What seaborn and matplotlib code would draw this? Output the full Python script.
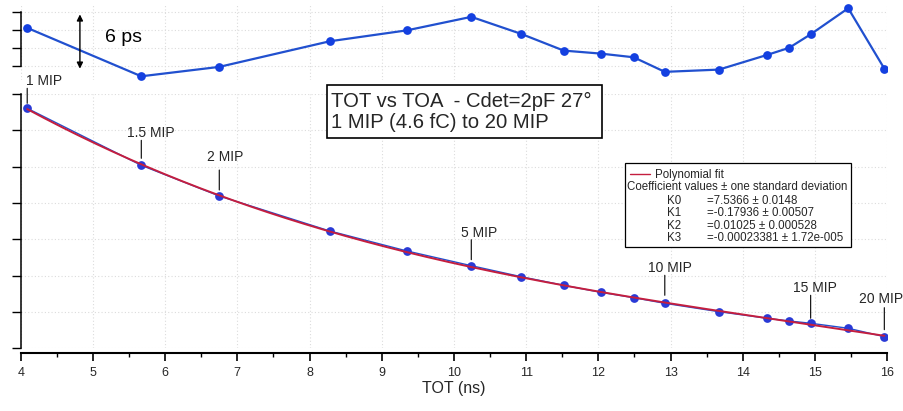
import numpy as np
import pandas as pd
import matplotlib
matplotlib.use("Agg")
import matplotlib.pyplot as plt
from matplotlib.patches import Rectangle
from matplotlib.lines import Line2D
import seaborn as sns

# Time over threshold (ns) for each injected charge step
tot = [4.09, 5.67, 6.75, 8.28, 9.35, 10.24, 10.93, 11.52, 12.03,
       12.49, 12.92, 13.67, 14.34, 14.64, 14.94, 15.46, 15.96]
# Measured time of arrival (ns)
toa = [6.9606, 6.8037, 6.7192, 6.6229, 6.5678, 6.5274, 6.4971, 6.4734, 6.4542,
       6.4393, 6.4239, 6.4008, 6.3826, 6.3752, 6.3689, 6.3551, 6.3320]
# Fit residuals (ps)
resid = [2.21, -3.14, -2.10, 0.73, 1.94, 3.43, 1.55, -0.30, -0.63,
         -1.04, -2.65, -2.40, -0.77, 0.00, 1.50, 4.38, -2.29]

# Cubic polynomial fit coefficients and their standard deviations
coef_names = ["K0", "K1", "K2", "K3"]
coef_vals = [7.5366, -0.17936, 0.01025, -0.00023381]
coef_text = ["7.5366", "-0.17936", "0.01025", "-0.00023381"]
coef_err = ["0.0148", "0.00507", "0.000528", "1.72e-005"]

# Charge labels: index of the point, label
mip_points = [0, 1, 2, 5, 10, 14, 16]
mip_labels = ["1 MIP", "1.5 MIP", "2 MIP", "5 MIP", "10 MIP", "15 MIP", "20 MIP"]

x_ticks = list(range(4, 17))
toa_ticks = [6.3, 6.4, 6.5, 6.6, 6.7, 6.8, 6.9, 7.0]
resid_ticks = [-2, 0, 2, 4]

sns.set_style("white")
plt.rcParams["font.family"] = ["Liberation Sans", "DejaVu Sans"]

W, H = 904, 411
fig = plt.figure(figsize=(W / 100, H / 100), dpi=100)

def fx(px):
    return px / W

def fy(py):
    return 1 - py / H

left_px, right_px = 20.7, 887.2
ax_bot = fig.add_axes([fx(left_px), fy(348.3), fx(right_px - left_px), (348.3 - 94) / H])
ax_top = fig.add_axes([fx(left_px), fy(80), fx(right_px - left_px), 76 / H])

blue_line = "#2150cf"
blue_mark = "#1440e0"
fit_red = "#c41e3f"
grid_kw = dict(color="#dcdcdc", linestyle=(0, (1, 2)), linewidth=0.8)

df = pd.DataFrame({"tot": tot, "toa": toa, "resid": resid})

# ---- residual panel ----
sns.lineplot(data=df, x="tot", y="resid", ax=ax_top, color=blue_line, lw=1.6,
             marker="o", markersize=6.3, markeredgewidth=0, markerfacecolor=blue_mark,
             estimator=None, sort=False)
ax_top.set_xlim(4, 16)
ax_top.set_ylim(-3.55, 4.85)
ax_top.set_yticks(resid_ticks)
ax_top.set_yticklabels([])
ax_top.set_xticks(x_ticks)
ax_top.tick_params(axis="x", length=0, labelbottom=False)
ax_top.tick_params(axis="y", direction="out", length=6.3, width=1.0, color="black", left=True)
for s in ["top", "right", "bottom"]:
    ax_top.spines[s].set_visible(False)
ax_top.spines["left"].set_bounds(-2, 4)
ax_top.spines["left"].set_color("black")
ax_top.spines["left"].set_linewidth(1.1)
ax_top.grid(True, **grid_kw)
ax_top.set_xlabel("")
ax_top.set_ylabel("")
ax_top.patch.set_alpha(0)

ax_top.annotate("", xy=(4.82, 3.7), xytext=(4.82, -2.3),
                arrowprops=dict(arrowstyle="<|-|>", color="black", lw=1.0,
                                mutation_scale=9, shrinkA=0, shrinkB=0))
ax_top.text(5.17, 1.19, "6 ps", fontsize=14, va="center", ha="left", color="black")

# ---- TOA vs TOT panel ----
sns.lineplot(data=df, x="tot", y="toa", ax=ax_bot, color=blue_line, lw=1.0,
             marker="o", markersize=6.3, markeredgewidth=0, markerfacecolor="#2a3ad6",
             estimator=None, sort=False, zorder=2)
xf = np.linspace(tot[0], tot[-1], 300)
yf = sum(c * xf ** i for i, c in enumerate(coef_vals))
sns.lineplot(x=xf, y=yf, ax=ax_bot, color=fit_red, lw=1.4, zorder=3, estimator=None, sort=False)

ax_bot.set_xlim(4, 16)
ax_bot.set_ylim(6.3, 7.0)
ax_bot.set_xticks(x_ticks)
ax_bot.set_xticks(np.arange(4.5, 16, 1.0), minor=True)
ax_bot.set_yticks(toa_ticks)
ax_bot.set_yticklabels([])
ax_bot.tick_params(axis="x", which="major", direction="out", length=6, width=1.2,
                   color="black", bottom=True, labelsize=9, pad=4)
ax_bot.tick_params(axis="x", which="minor", direction="out", length=3, width=1.0,
                   color="black", bottom=True)
ax_bot.tick_params(axis="y", direction="out", length=6.3, width=1.0, color="black", left=True)
for s in ["top", "right"]:
    ax_bot.spines[s].set_visible(False)
ax_bot.spines["left"].set_bounds(6.3, 7.0)
ax_bot.spines["left"].set_linewidth(1.1)
ax_bot.spines["left"].set_color("black")
ax_bot.spines["bottom"].set_position(("outward", 3.6))
ax_bot.spines["bottom"].set_linewidth(1.5)
ax_bot.spines["bottom"].set_color("black")
ax_bot.grid(True, which="major", **grid_kw)
ax_bot.set_xlabel("TOT (ns)", fontsize=11.5, labelpad=1)
ax_bot.set_ylabel("")
ax_bot.patch.set_alpha(0)

# Charge annotations: text offset (dx, baseline height) and leader line span, in pixels
label_offsets = [(17, 23, 20, 5), (10, 28, 25, 7), (5.5, 35, 26, 6), (7.5, 29, 26, 6),
                 (5, 31, 28, 8), (4, 31, 28, 5), (-3, 34, 29, 7)]
for idx, lab, (dx, dy, top, bot) in zip(mip_points, mip_labels, label_offsets):
    x, y = tot[idx], toa[idx]
    ax_bot.annotate(lab, xy=(x, y), xytext=(dx, dy), textcoords="offset pixels",
                    ha="center", va="baseline", fontsize=10, annotation_clip=False)
    ax_bot.annotate("", xy=(x, y), xytext=(0, top), textcoords="offset pixels",
                    annotation_clip=False,
                    arrowprops=dict(arrowstyle="-", color="black", lw=0.8,
                                    shrinkA=0, shrinkB=bot * 0.72))

# ---- title box ----
fig.add_artist(Rectangle((fx(327), fy(138)), fx(275), 53 / H, transform=fig.transFigure,
                         facecolor="white", edgecolor="black", lw=1.2, zorder=5))
fig.text(fx(331.5), fy(107), "TOT vs TOA  - Cdet=2pF 27°", fontsize=14.6,
         ha="left", va="baseline", zorder=6)
fig.text(fx(331.5), fy(127.5), "1 MIP (4.6 fC) to 20 MIP", fontsize=14.6,
         ha="left", va="baseline", zorder=6)

# ---- fit legend box ----
fig.add_artist(Rectangle((fx(625), fy(247)), fx(226), 84 / H, transform=fig.transFigure,
                         facecolor="white", edgecolor="black", lw=0.9, zorder=5))
fig.add_artist(Line2D([fx(630), fx(650)], [fy(174), fy(174)], transform=fig.transFigure,
                      color=fit_red, lw=1.0, zorder=6))
fs = 8.3
fig.text(fx(655), fy(178), "Polynomial fit", fontsize=fs, ha="left", va="baseline", zorder=6)
fig.text(fx(627), fy(190.5), "Coefficient values ± one standard deviation", fontsize=fs,
         ha="left", va="baseline", zorder=6)
for i, (name, val, err) in enumerate(zip(coef_names, coef_text, coef_err)):
    by = 204.3 + i * 12.1
    fig.text(fx(667), fy(by), name, fontsize=fs, ha="left", va="baseline", zorder=6)
    fig.text(fx(707), fy(by), f"={val} ± {err}", fontsize=fs, ha="left", va="baseline", zorder=6)

fig.savefig("out.png", dpi=100)
